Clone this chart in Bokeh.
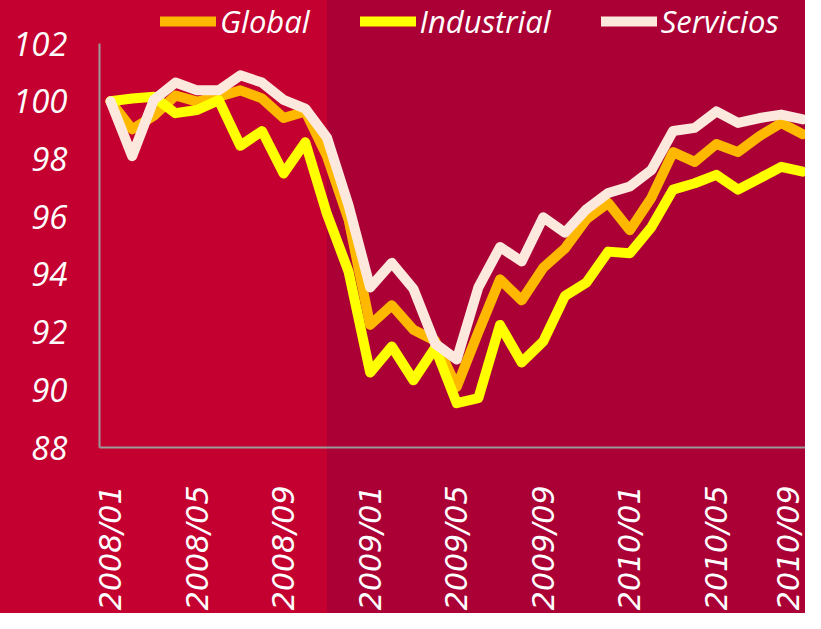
import math
from bokeh.plotting import figure
from bokeh.models import ColumnDataSource, FixedTicker, Legend, LegendItem, Range1d
from bokeh.embed import file_html
from bokeh.resources import INLINE

months = ["2008/01", "2008/02", "2008/03", "2008/04", "2008/05", "2008/06", "2008/07",
          "2008/08", "2008/09", "2008/10", "2008/11", "2008/12",
          "2009/01", "2009/02", "2009/03", "2009/04", "2009/05", "2009/06", "2009/07",
          "2009/08", "2009/09", "2009/10", "2009/11", "2009/12",
          "2010/01", "2010/02", "2010/03", "2010/04", "2010/05", "2010/06", "2010/07",
          "2010/08", "2010/09"]

global_vals = [100.0, 99.03, 99.5, 100.2, 99.99, 100.16, 100.38, 100.1, 99.42, 99.65,
               98.1, 95.9, 92.25, 92.93, 92.08, 91.7, 90.1, 92.0, 93.83, 93.1,
               94.23, 94.9, 95.92, 96.48, 95.53, 96.66, 98.24, 97.9, 98.52, 98.24,
               98.8, 99.25, 98.86]

industrial_vals = [100.0, 100.1, 100.16, 99.59, 99.7, 100.04, 98.46, 98.97, 97.5, 98.58,
                   96.1, 94.1, 90.6, 91.5, 90.33, 91.46, 89.54, 89.71, 92.25, 90.95,
                   91.68, 93.25, 93.72, 94.79, 94.73, 95.64, 96.94, 97.16, 97.45, 96.94,
                   97.33, 97.73, 97.56]

servicios_vals = [100.0, 98.1, 100.05, 100.65, 100.38, 100.38, 100.9, 100.65, 100.05, 99.75,
                  98.75, 96.4, 93.55, 94.4, 93.5, 91.6, 91.05, 93.55, 94.95, 94.45,
                  95.98, 95.45, 96.26, 96.82, 97.05, 97.62, 98.97, 99.08, 99.65, 99.25,
                  99.42, 99.54, 99.37]

series_names = ["Global", "Industrial", "Servicios"]
series_colors = ["#ffb800", "#ffff00", "#fce8dc"]

y_ticks = [88, 90, 92, 94, 96, 98, 100, 102]
x_tick_step = 4

x = list(range(len(months)))
source = ColumnDataSource(data=dict(x=x, Global=global_vals,
                                    Industrial=industrial_vals,
                                    Servicios=servicios_vals))

# frame spans the full height above the x axis; the y axis line is bounded to 88..102
p = figure(width=805, height=613, output_backend="svg", toolbar_location=None,
           x_range=Range1d(-0.51, 32.12), y_range=Range1d(88, 103.495),
           min_border_left=99, min_border_right=0, min_border_top=0,
           min_border_bottom=157)

p.border_fill_color = None
p.background_fill_color = None
p.outline_line_color = None
p.styles = {"background": "linear-gradient(to right, #c3002f 0px, #c3002f 327px, #aa0035 327px, #aa0035 100%)"}

p.xgrid.grid_line_color = None
p.ygrid.grid_line_color = None

renderers = []
for name, color in zip(series_names, series_colors):
    r = p.line("x", name, source=source, line_color=color, line_width=10,
               line_join="round", line_cap="round")
    renderers.append(r)

legend = Legend(items=[LegendItem(label=n, renderers=[r]) for n, r in zip(series_names, renderers)],
                orientation="horizontal", location=(61, 405),
                padding=0, margin=0, spacing=50, glyph_width=56, glyph_height=30,
                label_height=30, label_standoff=4,
                background_fill_alpha=0, border_line_color=None,
                label_text_font="Open Sans", label_text_font_style="italic",
                label_text_font_size="31px", label_text_color="white")
p.add_layout(legend)

# y axis
p.yaxis.ticker = FixedTicker(ticks=y_ticks)
p.yaxis.bounds = (88, 102)
p.yaxis.axis_line_color = "#9a9a9a"
p.yaxis.axis_line_width = 2
p.yaxis.major_tick_line_color = None
p.yaxis.minor_tick_line_color = None
p.yaxis.major_label_standoff = 26
p.yaxis.major_label_text_font = "Open Sans"
p.yaxis.major_label_text_font_style = "italic"
p.yaxis.major_label_text_font_size = "33px"
p.yaxis.major_label_text_color = "white"

# x axis
xt = list(range(0, len(months), x_tick_step))
p.xaxis.ticker = FixedTicker(ticks=xt)
p.xaxis.major_label_overrides = {i: months[i] for i in xt}
p.xaxis.major_label_orientation = math.pi / 2
p.xaxis.axis_line_color = "#9a9a9a"
p.xaxis.axis_line_width = 2
p.xaxis.major_tick_line_color = None
p.xaxis.minor_tick_line_color = None
p.xaxis.major_label_standoff = 32
p.xaxis.major_label_text_font = "DejaVu Sans"
p.xaxis.major_label_text_font_style = "italic"
p.xaxis.major_label_text_font_size = "30px"
p.xaxis.major_label_text_color = "white"

open("out.html", "w").write(file_html(p, INLINE))
